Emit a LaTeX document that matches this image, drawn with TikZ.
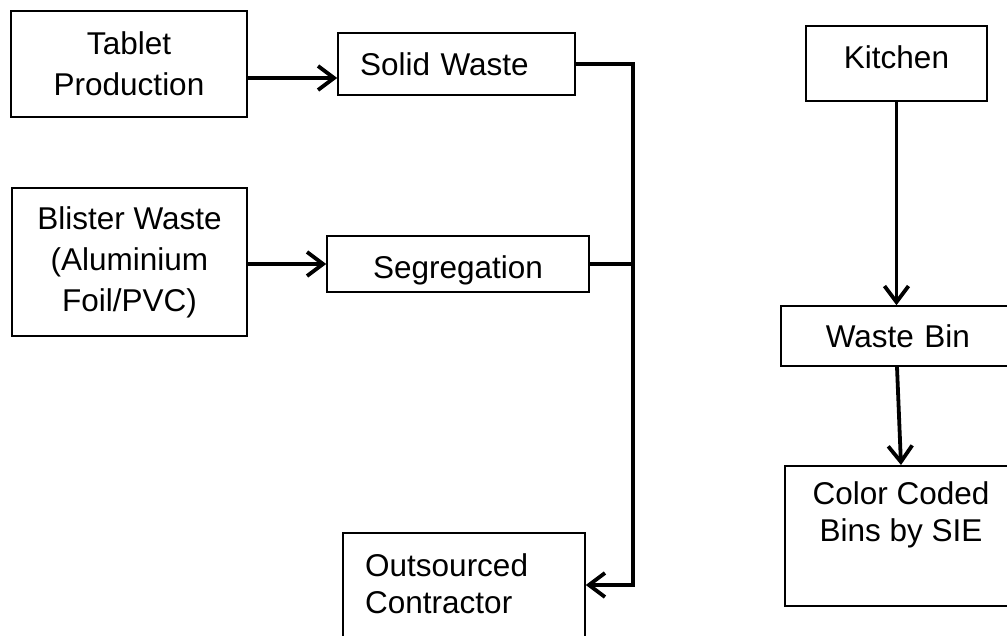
\documentclass[tikz,border=0pt]{standalone}
\usepackage{fontspec}
\setmainfont{Liberation Sans}
\usetikzlibrary{arrows.meta,calc}
\begin{document}
\begin{tikzpicture}[x=1pt,y=-1pt,
  box/.style={draw=black, line width=1.6pt, inner sep=0pt, align=center,
    font=\fontsize{31.5pt}{41pt}\selectfont},
  txt/.style={inner sep=0pt, font=\fontsize{31.5pt}{36.5pt}\selectfont},
  conn/.style={draw=black, line width=3.8pt, line join=miter},
  arr/.style={-{Straight Barb[length=16pt,width=24pt,line width=3.8pt]}}]
\useasboundingbox (0,0) rectangle (1007,635);
\clip (0,0) rectangle (1007,635);
% left column
\node[box, minimum width=236pt, minimum height=106pt] (tab) at (129,64) {Tablet\\Production};
\node[box, text width=193pt, inner xsep=22pt, align=left, minimum height=62pt] (sw) at (456.5,64) {Solid Waste};
\node[box, minimum width=235pt, minimum height=148pt] (bl) at (129.5,262) {Blister Waste\\(Aluminium\\Foil/PVC)};
\node[box, minimum width=262pt, minimum height=56pt, text height=28pt, text depth=0pt] (seg) at (458,264) {Segregation};
\node[box, minimum width=242pt, minimum height=104pt] (oc) at (464,585) {};
\node[txt, anchor=west, align=left] (octext) at (365,583.5) {Outsourced\\Contractor};
\coordinate (bus) at (633,0);
\draw[conn,arr] ($(tab.east)+(0,14)$) -- ($(sw.west)+(0,14)$);
\draw[conn,arr] (bl.east |- seg.west) -- (seg.west);
\draw[conn,arr] (sw.east) -| (bus |- oc.east) -- (oc.east);
\draw[conn] (seg.east) -- (bus |- seg.east);
% right column
\node[box, minimum width=181pt, minimum height=75pt, text height=23pt, text depth=13pt] (kit) at (896.5,63.5) {Kitchen};
\node[box, anchor=west, text width=190pt, inner xsep=45pt, align=left, minimum height=60pt] (wb) at (780,336) {Waste Bin};
\node[box, anchor=north west, minimum width=260pt, minimum height=140pt] (cc) at (784,465) {};
\node[txt, align=center] (cctext) at (901,515) {Color Coded\\Bins by SIE};
\draw[conn,arr] (kit.south) -- (kit.south |- wb.north);
\draw[conn,arr] ($(wb.south west)+(117,0)$) -- ($(cc.north west)+(117,0)$);
\end{tikzpicture}
\end{document}
